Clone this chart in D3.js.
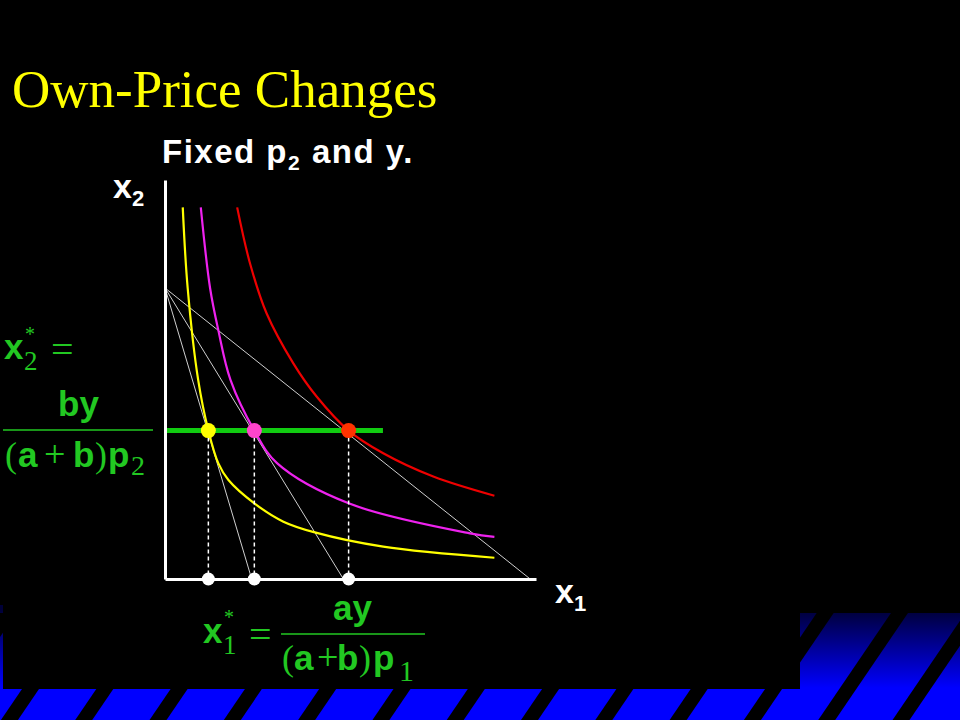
<!DOCTYPE html>
<html><head><meta charset="utf-8">
<script src="https://cdn.jsdelivr.net/npm/d3@7"></script>
<style>html,body{margin:0;padding:0;background:#000;} svg{display:block;}</style>
</head><body>
<svg id="chart" width="960" height="720"></svg>
<script>
// ---------- data (units: x2 intercept = y/p2 = 10) ----------
const budgetX2Intercept = 10;                    // y / p2 (fixed)
const budgetX1Intercepts = [2.98, 6.13, 12.55];  // y / p1 for three falling p1
const optimumX1 = [1.49, 3.07, 6.31];            // x1* for each p1
const optimumX2 = 5.10;                          // x2* (constant)
const curveLow  = [[0.61,12.77],[0.78,9.99],[1.14,6.84],[1.49,5.10],[1.83,3.98],[2.18,3.40],[3.07,2.60],[4.07,1.97],[5.15,1.60],[7.50,1.11],[11.32,0.73]];
const curveMid  = [[1.23,12.77],[1.55,9.99],[1.83,8.56],[2.25,6.84],[3.07,5.10],[3.85,3.98],[6.31,2.60],[10.48,1.57],[11.32,1.45]];
const curveHigh = [[2.48,12.77],[2.92,10.85],[3.49,9.13],[4.41,7.41],[5.21,6.27],[6.31,5.10],[7.50,4.32],[9.22,3.52],[11.32,2.86]];
const axisX1Max = 12.75, axisX2Max = 13.71;
const greenLineEnd = 7.49;
const titleText = "Own-Price Changes";

// ---------- styles ----------
const curveColors = ["#ffff00", "#ee22ee", "#ee0000"];
const dotColors = ["#ffff00", "#ff44cc", "#ff3300"];
const green = "#22c822";
const SANS = "'Liberation Sans', Arial, sans-serif";
const SERIF = "'Liberation Serif', 'Times New Roman', serif";

const svg = d3.select("#chart");

// ---------- background template ----------
const defs = svg.append("defs");
const grad = defs.append("linearGradient").attr("id", "band")
  .attr("gradientUnits", "userSpaceOnUse").attr("x1", 0).attr("x2", 0).attr("y1", 610).attr("y2", 688);
grad.append("stop").attr("offset", 0).attr("stop-color", "#000038");
grad.append("stop").attr("offset", 1).attr("stop-color", "#0000ff");
svg.append("rect").attr("width", 960).attr("height", 720).attr("fill", "#000");
svg.append("rect").attr("x", 0).attr("y", 613).attr("width", 960).attr("height", 107).attr("fill", "url(#band)");
svg.append("rect").attr("x", 0).attr("y", 605).attr("width", 3).attr("height", 10).attr("fill", "url(#band)");
const stripeG = svg.append("g").attr("fill", "#000");
d3.range(-2, 16).forEach(k => {
  const xl = yy => 22 + 74.3 * k - 0.68 * (yy - 689);
  stripeG.append("polygon").attr("points",
    [[xl(613), 613], [xl(613) + 17, 613], [xl(720) + 17, 720], [xl(720), 720]].map(p => p.join(",")).join(" "));
});
svg.append("rect").attr("x", 3).attr("y", 0).attr("width", 797).attr("height", 689).attr("fill", "#000");

// ---------- scales ----------
const x = d3.scaleLinear().domain([0, axisX1Max]).range([165, 536]);
const y = d3.scaleLinear().domain([0, axisX2Max]).range([579, 180]);

// budget lines
svg.append("g").selectAll("line").data(budgetX1Intercepts).join("line")
  .attr("x1", x(0)).attr("y1", y(budgetX2Intercept))
  .attr("x2", d => x(d)).attr("y2", y(0))
  .attr("stroke", "#cfcfcf").attr("stroke-width", 1);

// indifference curves
const line = d3.line().x(d => x(d[0])).y(d => y(d[1])).curve(d3.curveCatmullRom.alpha(0.5));
svg.append("g").selectAll("path").data([curveLow, curveMid, curveHigh]).join("path")
  .attr("d", line).attr("fill", "none")
  .attr("stroke", (d, i) => curveColors[i]).attr("stroke-width", 2.2);

// constant x2* line
svg.append("line").attr("x1", x(0)).attr("x2", x(greenLineEnd))
  .attr("y1", y(optimumX2)).attr("y2", y(optimumX2))
  .attr("stroke", "#11cc11").attr("stroke-width", 5);

// dashed drop lines
svg.append("g").selectAll("line").data(optimumX1).join("line")
  .attr("x1", d => x(d)).attr("x2", d => x(d))
  .attr("y1", y(optimumX2)).attr("y2", y(0))
  .attr("stroke", "#fff").attr("stroke-width", 1.5).attr("stroke-dasharray", "4,3");

// axes
const ax = svg.append("g").attr("transform", `translate(0,${y(0)})`)
  .call(d3.axisBottom(x).tickValues([]).tickSizeOuter(0));
const ay = svg.append("g").attr("transform", `translate(${x(0)},0)`)
  .call(d3.axisLeft(y).tickValues([]).tickSizeOuter(0));
[ax, ay].forEach(g => g.select(".domain").attr("stroke", "#fff").attr("stroke-width", 3));

// optimum dots
svg.append("g").selectAll("circle").data(optimumX1).join("circle")
  .attr("cx", d => x(d)).attr("cy", y(optimumX2)).attr("r", 7.5)
  .attr("fill", (d, i) => dotColors[i]);
svg.append("g").selectAll("circle").data(optimumX1).join("circle")
  .attr("cx", d => x(d)).attr("cy", y(0)).attr("r", 6.5).attr("fill", "#fff");

// ---------- text ----------
svg.append("text").attr("x", 12).attr("y", 107).attr("font-size", 53)
  .attr("font-family", SERIF).attr("fill", "#ffff00").text(titleText);

const fixed = svg.append("text").attr("x", 162).attr("y", 163).attr("font-size", 33)
  .attr("font-family", SANS).attr("font-weight", "bold").attr("fill", "#fff").attr("letter-spacing", 1.5);
fixed.append("tspan").text("Fixed p");
fixed.append("tspan").attr("font-size", 21).attr("dy", 7).text("2");
fixed.append("tspan").attr("dy", -7).text(" and y.");

// axis labels
function subLabel(main, sub, px, py) {
  const t = svg.append("text").attr("x", px).attr("y", py).attr("font-size", 34)
    .attr("font-family", SANS).attr("font-weight", "bold").attr("fill", "#fff");
  t.append("tspan").text(main);
  t.append("tspan").attr("font-size", 22).attr("dy", 8).text(sub);
}
subLabel("x", "2", 113, 198);
subLabel("x", "1", 555, 603);

// one text element per formula row, pieces placed as tspans
function row(pieces) {
  const t = svg.append("text").attr("fill", green);
  pieces.forEach(p => t.append("tspan").attr("x", p[1]).attr("y", p[2])
    .attr("font-size", p[3]).attr("font-family", p[4] ? SERIF : SANS)
    .attr("font-weight", p[4] ? "normal" : "bold").text(p[0]));
}
// x2* = by / ((a+b)p2)
row([["x", 4, 359, 35, 0], ["*", 25, 341, 20, 1], ["2", 24, 370, 27, 1], ["=", 51, 363, 40, 1]]);
row([["by", 58, 416, 35, 0]]);
row([["(", 5, 467, 36, 1], ["a", 18, 467, 35, 0], ["+", 44, 467, 38, 1], ["b", 73, 467, 35, 0],
     [")", 95, 467, 36, 1], ["p", 108, 467, 35, 0], ["2", 131, 475, 28, 1]]);
svg.append("line").attr("x1", 3).attr("x2", 153).attr("y1", 430).attr("y2", 430)
  .attr("stroke", green).attr("stroke-width", 1.5);

// x1* = ay / ((a+b)p1)
row([["x", 203, 643, 35, 0], ["*", 224, 624, 20, 1], ["1", 223, 654, 27, 1], ["=", 249, 648, 40, 1]]);
row([["ay", 333, 620, 35, 0]]);
row([["(", 282, 670, 36, 1], ["a", 294, 670, 35, 0], ["+", 317, 670, 38, 1], ["b", 337, 670, 35, 0],
     [")", 359, 670, 36, 1], ["p", 373, 670, 35, 0], ["1", 399, 681, 30, 1]]);
svg.append("line").attr("x1", 281).attr("x2", 425).attr("y1", 634).attr("y2", 634)
  .attr("stroke", green).attr("stroke-width", 1.5);
</script>
</body></html>
